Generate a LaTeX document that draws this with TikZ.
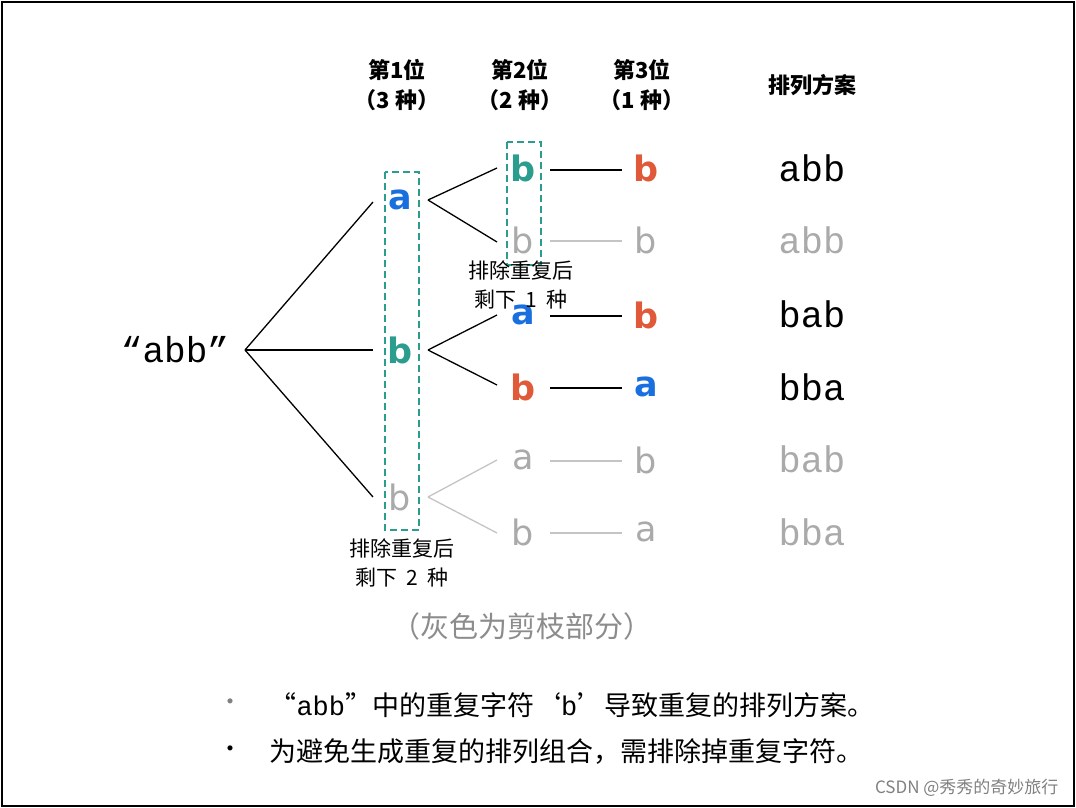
\documentclass[tikz,border=0pt]{standalone}
\usepackage{fontspec}
\setmainfont{Noto Sans CJK SC}
\newfontfamily\cjk{Noto Sans CJK SC}
\newfontfamily\monof{Liberation Mono}
\newfontfamily\sansb{DejaVu Sans}
\definecolor{cblue}{HTML}{1A6FDF}
\definecolor{cteal}{HTML}{2A9D8F}
\definecolor{cred}{HTML}{E05A3A}
\definecolor{cgray}{HTML}{AAAAAA}
\definecolor{lgray}{HTML}{C4C4C4}
\tikzset{
 lt/.style={font=\sansb\bfseries\fontsize{35}{35}\selectfont,inner sep=1pt},
 lg/.style={font=\sansb\fontsize{35}{35}\selectfont,inner sep=1pt,cgray},
 res/.style={font=\monof\fontsize{37}{37}\selectfont,inner sep=1pt},
 hd/.style={font=\cjk\bfseries\fontsize{22}{30}\selectfont,align=center},
 lab/.style={font=\cjk\fontsize{21}{29}\selectfont,align=center,inner sep=0pt},
 ln/.style={line width=1.3pt},
 gl/.style={line width=1.3pt,lgray},
 dbox/.style={draw=cteal,dash pattern=on 7pt off 4pt,line width=1.5pt}
}
\begin{document}
\begin{tikzpicture}[x=1pt,y=-1pt]
\useasboundingbox (0,0) rectangle (1076,808);
\draw[line width=2pt] (2,2) rectangle (1074,806);
\node[hd] (h1) at (397,85) {第1位\\（3 种）};
\node[hd] (h2) at (520,85) {第2位\\（2 种）};
\node[hd] (h3) at (642,85) {第3位\\（1 种）};
\node[hd] (h4) at (812,85) {排列方案};
\node[font=\monof\fontsize{36}{36}\selectfont] (root) at (175,350) {“abb”};
\coordinate (r) at (245,350);
\node[lt,cblue] (a1) at (400,200) {a};
\node[lt,cteal] (b1) at (400,350) {b};
\node[lg] (b2) at (400,497) {b};
\draw[dbox] (385,172) rectangle (419,530);
\node[lt,cteal] (l21) at (523,168) {b};
\node[lg] (l22) at (523,240) {b};
\node[lt,cblue] (l23) at (523,315) {a};
\node[lt,cred] (l24) at (523,387) {b};
\node[lg] (l25) at (523,460) {a};
\node[lg] (l26) at (523,532) {b};
\draw[dbox] (507,142) rectangle (541,265);
\node[lt,cred] (l31) at (646,168) {b};
\node[lg] (l32) at (646,240) {b};
\node[lt,cred] (l33) at (646,315) {b};
\node[lt,cblue] (l34) at (646,387) {a};
\node[lg] (l35) at (646,460) {b};
\node[lg] (l36) at (646,532) {a};
\node[res] (p1) at (812,168) {abb};
\node[res,cgray] (p2) at (812,240) {abb};
\node[res] (p3) at (812,314) {bab};
\node[res] (p4) at (812,387) {bba};
\node[res,cgray] (p5) at (812,459) {bab};
\node[res,cgray] (p6) at (812,532) {bba};
\draw[ln] (r) -- (373,202); \draw[ln] (r) -- (373,350); \draw[ln] (r) -- (373,497);
\draw[ln] (428,200) -- (497,168); \draw[ln] (428,200) -- (497,242);
\draw[ln] (428,350) -- (497,315); \draw[ln] (428,350) -- (497,385);
\draw[gl] (428,497) -- (497,460); \draw[gl] (428,497) -- (497,533);
\draw[ln] (550,170) -- (622,170);
\draw[gl] (550,241) -- (622,241);
\draw[ln] (550,316) -- (622,316);
\draw[ln] (550,388) -- (622,388);
\draw[gl] (550,461) -- (622,461);
\draw[gl] (550,533) -- (622,533);
\node[lab] (n1) at (521,285) {排除重复后\\剩下\ \ 1\ \ 种};
\node[lab] (n2) at (402,563) {排除重复后\\剩下\ \ 2\ \ 种};
\node[font=\cjk\fontsize{29}{29}\selectfont,text=gray!90] (g) at (522,626) {（灰色为剪枝部分）};
\node[font=\cjk\fontsize{24}{24}\selectfont,text=gray] (d1) at (230,705) {•};
\node[font=\cjk\fontsize{24}{24}\selectfont] (d2) at (230,752) {•};
\node[anchor=west,font=\cjk\fontsize{27}{27}\selectfont] (t1) at (266,705) {“{\monof abb}”中的重复字符‘{\monof b}’导致重复的排列方案。};
\node[anchor=west,font=\cjk\fontsize{27}{27}\selectfont] (t2) at (266,752) {为避免生成重复的排列组合，需排除掉重复字符。};
\node[anchor=east,font=\cjk\fontsize{17}{17}\selectfont,text=gray] (w) at (1062,788) {CSDN @秀秀的奇妙旅行};
\end{tikzpicture}
\end{document}
